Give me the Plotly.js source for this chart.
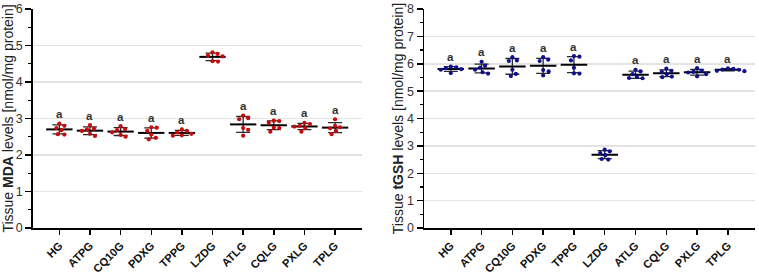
<!DOCTYPE html>
<html>
<head>
<meta charset="utf-8">
<script src="https://cdn.plot.ly/plotly-3.0.1.min.js"></script>
<style>
  html, body { margin: 0; padding: 0; background: #fff; }
  #chart { width: 759px; height: 275px; }
</style>
</head>
<body>
<div id="chart"></div>
<script>
// Study groups (x-axis categories)
const groups = ['HG', 'ATPG', 'CQ10G', 'PDXG', 'TPPG', 'LZDG', 'ATLG', 'CQLG', 'PXLG', 'TPLG'];

// Significance letters shown above each group ('' = none)
const sigLetters = ['a', 'a', 'a', 'a', 'a', '', 'a', 'a', 'a', 'a'];

// Tissue MDA levels [nmol/mg protein], six animals per group
const mdaValues = [
  [2.86, 2.80, 2.74, 2.68, 2.57, 2.56],
  [2.82, 2.72, 2.70, 2.66, 2.58, 2.52],
  [2.79, 2.71, 2.68, 2.62, 2.55, 2.50],
  [2.76, 2.75, 2.66, 2.56, 2.47, 2.43],
  [2.70, 2.66, 2.62, 2.58, 2.54, 2.53],
  [4.81, 4.77, 4.72, 4.70, 4.57, 4.56],
  [3.08, 3.01, 2.98, 2.74, 2.69, 2.53],
  [2.94, 2.93, 2.89, 2.75, 2.74, 2.64],
  [2.88, 2.85, 2.80, 2.78, 2.74, 2.64],
  [2.98, 2.80, 2.76, 2.73, 2.66, 2.57]
];

// Tissue tGSH levels [nmol/mg protein], six animals per group
const gshValues = [
  [5.90, 5.87, 5.84, 5.80, 5.78, 5.66],
  [6.07, 5.93, 5.86, 5.78, 5.69, 5.64],
  [6.24, 6.12, 6.10, 5.78, 5.63, 5.55],
  [6.24, 6.15, 6.10, 5.77, 5.72, 5.57],
  [6.28, 6.26, 6.12, 5.85, 5.65, 5.64],
  [2.86, 2.80, 2.74, 2.66, 2.52, 2.50],
  [5.78, 5.72, 5.62, 5.52, 5.48, 5.47],
  [5.82, 5.74, 5.70, 5.62, 5.53, 5.51],
  [5.84, 5.74, 5.70, 5.68, 5.62, 5.54],
  [5.83, 5.81, 5.79, 5.78, 5.74, 5.73]
];

// ---- layout geometry ----
const W = 759, H = 275;
const M = { l: 33, r: 4, t: 8.5, b: 46.5 };
const plotW = W - M.l - M.r;
const plotH = H - M.t - M.b;
const xRange = [-0.86, 9.88];
const leftDomain = [0, 0.4557];
const rightDomain = [0.542, 1];
const FONT = 'Liberation Sans, Arial, Helvetica, sans-serif';

const mean = a => a.reduce((s, v) => s + v, 0) / a.length;
const sd = a => {
  const m = mean(a);
  return Math.sqrt(a.reduce((s, v) => s + (v - m) * (v - m), 0) / (a.length - 1));
};

// Beeswarm offsets: each point is pushed sideways just enough not to overlap
// points already placed (distances measured in screen pixels).
function swarmOffsets(vals, pxPerY, pxPerX, minDist) {
  const idx = vals.map((v, k) => k).sort((a, b) => vals[b] - vals[a]);
  const placed = [];
  const out = new Array(vals.length).fill(0);
  idx.forEach(k => {
    const py = vals[k] * pxPerY;
    let chosen = 0;
    for (let step = 0; step < 200; step++) {
      const mag = Math.ceil(step / 2) * 0.5;
      const cand = (step % 2 === 1) ? mag : -mag;
      const ok = placed.every(p => Math.hypot(p.x - cand, p.y - py) >= minDist);
      if (ok) { chosen = cand; break; }
    }
    placed.push({ x: chosen, y: py });
    out[k] = chosen / pxPerX;
  });
  return out;
}

function buildPanel(values, xa, ya, yMax, domain, color) {
  const pxPerX = plotW * (domain[1] - domain[0]) / (xRange[1] - xRange[0]);
  const pxPerY = plotH / yMax;
  const means = values.map(mean);
  const sds = values.map(sd);
  const idx = groups.map((g, i) => i);

  // SD whiskers
  const err = {
    type: 'scatter', mode: 'markers', xaxis: xa, yaxis: ya,
    x: idx, y: means,
    marker: { size: 0.1, color: 'rgba(0,0,0,0)' },
    error_y: { type: 'data', array: sds, visible: true, color: '#2a2a2a', thickness: 1.3, width: 7 },
    hoverinfo: 'skip', showlegend: false
  };

  // mean bars
  const mx = [], my = [];
  idx.forEach(i => { mx.push(i - 0.43, i + 0.43, null); my.push(means[i], means[i], null); });
  const meanLine = {
    type: 'scatter', mode: 'lines', xaxis: xa, yaxis: ya,
    x: mx, y: my, line: { color: '#000', width: 2 },
    hoverinfo: 'skip', showlegend: false
  };

  // individual animals
  const px = [], py = [];
  values.forEach((vals, i) => {
    const offs = swarmOffsets(vals, pxPerY, pxPerX, 5.2);
    vals.forEach((v, k) => { px.push(i + offs[k]); py.push(v); });
  });
  const pts = {
    type: 'scatter', mode: 'markers', xaxis: xa, yaxis: ya,
    x: px, y: py, marker: { size: 4.2, color: color },
    showlegend: false
  };

  // significance letters
  const ann = [];
  idx.forEach(i => {
    if (!sigLetters[i]) return;
    const top = Math.max(Math.max(...values[i]), means[i] + sds[i]);
    ann.push({
      xref: xa, yref: ya, x: i, y: top, text: sigLetters[i],
      showarrow: false, yanchor: 'bottom', yshift: 1.5,
      font: { family: FONT, size: 11.5, color: '#333', weight: 'bold' }
    });
  });
  return { traces: [err, meanLine, pts], ann };
}

const left = buildPanel(mdaValues, 'x', 'y', 6, leftDomain, '#c80a0a');
const right = buildPanel(gshValues, 'x2', 'y2', 8, rightDomain, '#10108f');

function xAxis(domain, anchor) {
  return {
    domain, anchor, range: xRange,
    tickmode: 'array', tickvals: groups.map((g, i) => i), ticktext: groups,
    tickangle: -45, ticks: 'outside', ticklen: 5, tickwidth: 1.5, tickcolor: '#000',
    showline: true, linecolor: '#000', linewidth: 1.8,
    showgrid: false, zeroline: false,
    tickfont: { family: FONT, size: 11.2, color: '#111', weight: 'bold' }
  };
}
function yAxis(max, anchor, title, standoff) {
  return {
    domain: [0, 1], anchor, range: [0, max], dtick: 1, tick0: 0,
    ticks: 'outside', ticklen: 6, tickwidth: 1.5, tickcolor: '#000',
    minor: { dtick: 0.5, ticks: 'outside', ticklen: 3, tickwidth: 1.2, tickcolor: '#000', showgrid: false },
    showline: true, linecolor: '#000', linewidth: 1.8,
    showgrid: true, gridcolor: '#e3e3e3', gridwidth: 1.5, zeroline: false,
    tickfont: { family: FONT, size: 12.5, color: '#333' },
    title: { text: title, standoff, font: { family: FONT, size: 14, color: '#222' } }
  };
}

const layout = {
  width: W, height: H, margin: M,
  paper_bgcolor: '#fff', plot_bgcolor: '#fff',
  showlegend: false,
  xaxis: xAxis(leftDomain, 'y'),
  yaxis: yAxis(6, 'x', 'Tissue <b>MDA</b> levels [nmol/mg protein]', 1),
  xaxis2: xAxis(rightDomain, 'y2'),
  yaxis2: yAxis(8, 'x2', 'Tissue <b>tGSH</b> levels [nmol/mg protein]', 0),
  annotations: left.ann.concat(right.ann)
};

Plotly.newPlot('chart', left.traces.concat(right.traces), layout, { staticPlot: true, displayModeBar: false });
</script>
</body>
</html>
